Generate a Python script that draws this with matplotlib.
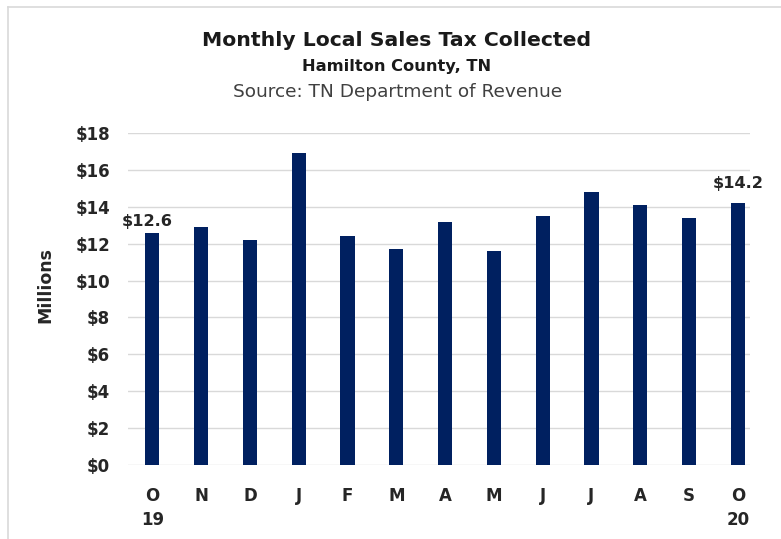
import matplotlib
matplotlib.use("Agg")
import matplotlib.pyplot as plt
from matplotlib.lines import Line2D

months = ["O\n19", "N", "D", "J", "F", "M", "A", "M", "J", "J", "A", "S", "O\n20"]
values = [12.6, 12.9, 12.2, 16.9, 12.4, 11.7, 13.2, 11.6, 13.5, 14.8, 14.1, 13.4, 14.2]
yticks = [0, 2, 4, 6, 8, 10, 12, 14, 16, 18]
ytick_labels = ["$" + str(v) for v in yticks]
labeled = {0: "$12.6", 12: "$14.2"}

plt.rcParams['font.family'] = ['DejaVu Sans']

fig = plt.figure(figsize=(7.81, 5.39), dpi=100)
ax = fig.add_axes([128/781, 1-465/539, (750-128)/781, (465-133)/539])

x = list(range(len(values)))
ax.bar(x, values, width=0.29, color="#002060", zorder=3)
ax.set_ylim(0, 18)
ax.set_xlim(-0.5, 12.25)
ax.set_yticks(yticks)
ax.set_yticklabels(ytick_labels, fontsize=12, fontweight="bold", color="#262626")
ax.set_xticks(x)
ax.set_xticklabels(months, fontsize=12, fontweight="bold", color="#262626", linespacing=1.4, va="top")
ax.tick_params(axis="both", length=0)
ax.tick_params(axis="y", pad=13)
ax.tick_params(axis="x", pad=16)
ax.grid(axis="y", color="#d9d9d9", linewidth=1, zorder=0)
for s in ax.spines.values():
    s.set_visible(False)

fig.text(45/781, 1-285/539, "Millions", rotation=90, ha="center", va="center",
         fontsize=12.5, fontweight="bold", color="#262626")

offsets = {0: (-3.5, 4.5), 12: (0, 11)}
for i, t in labeled.items():
    ax.annotate(t, (i, values[i]), xytext=offsets[i], textcoords="offset points",
                ha="center", va="baseline", fontsize=11.6, fontweight="bold", color="#262626",
                bbox=dict(boxstyle="square,pad=0.15", fc="white", ec="none"), zorder=4)

fig.text(397/781, 1-40/539, "Monthly Local Sales Tax Collected", ha="center", va="center",
         fontsize=14.7, fontweight="bold", color="#1a1a1a")
fig.text(397/781, 1-66/539, "Hamilton County, TN", ha="center", va="center",
         fontsize=11.7, fontweight="bold", color="#1a1a1a")
fig.text(398/781, 1-92/539, "Source: TN Department of Revenue", ha="center", va="center",
         fontsize=13.3, color="#404040")

# light frame lines (top and left)
fig.add_artist(Line2D([8/781, 1], [1-7/539, 1-7/539], color="#d9d9d9", lw=1.2, transform=fig.transFigure))
fig.add_artist(Line2D([8/781, 8/781], [0, 1-7/539], color="#d9d9d9", lw=1.2, transform=fig.transFigure))

fig.savefig("out.png", dpi=100, facecolor="white")
